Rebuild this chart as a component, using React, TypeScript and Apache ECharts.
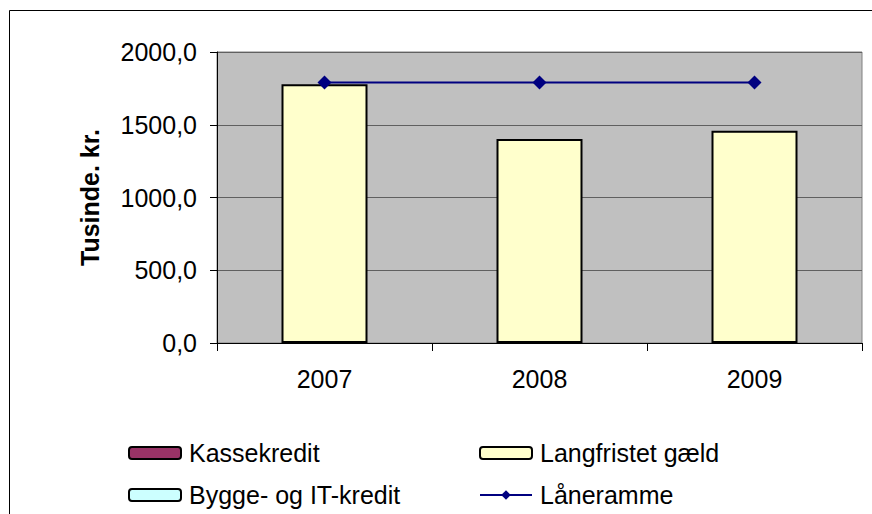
import React, { useEffect, useRef } from "react";
import * as echarts from "echarts";

const categories = ["2007", "2008", "2009"];
const kassekredit: (number | string)[] = ["-", "-", "-"];
const byggeIT: (number | string)[] = ["-", "-", "-"];
const langfristet = [1778, 1402, 1459];
const laaneramme = [1790, 1790, 1790];
const yTicks = { min: 0, max: 2000, interval: 500 };

const FONT = "'Liberation Sans', Arial, sans-serif";
const FS = 25;

function legendItem(name: string, left: number, top: number) {
  return {
    left,
    top,
    orient: "horizontal",
    itemWidth: 52,
    itemHeight: 12,
    data: [name],
    selectedMode: false,
    padding: 0,
    textStyle: {
      fontFamily: FONT,
      fontSize: FS,
      color: "#000",
      lineHeight: 26,
      padding: [0, 0, 0, 3],
    },
  };
}

export default function App() {
  const ref = useRef<HTMLDivElement>(null);
  useEffect(() => {
    if (!ref.current) return;
    const chart = echarts.init(ref.current, undefined, { renderer: "svg" });
    chart.setOption({
      animation: false,
      backgroundColor: "#ffffff",
      textStyle: { fontFamily: FONT },
      graphic: [
        {
          type: "rect",
          shape: { x: 9.5, y: 10.5, width: 900, height: 600 },
          style: { fill: "none", stroke: "#000000", lineWidth: 1 },
          silent: true,
          z: -1,
        },
      ],
      grid: {
        left: 217,
        right: 10,
        top: 52,
        bottom: 171,
        show: true,
        backgroundColor: "#C0C0C0",
        borderColor: "#808080",
        borderWidth: 1,
      },
      legend: [
        legendItem("Kassekredit", 128, 440),
        legendItem("Bygge- og IT-kredit", 128, 482),
        legendItem("Langfristet gæld", 479, 440),
        legendItem("Låneramme", 479, 482),
      ],
      xAxis: {
        type: "category",
        data: categories,
        axisLine: { lineStyle: { color: "#000", width: 1 } },
        axisTick: { show: true, length: 8, lineStyle: { color: "#000" } },
        axisLabel: { fontFamily: FONT, fontSize: FS, color: "#000", margin: 23 },
        splitLine: { show: false },
      },
      yAxis: {
        type: "value",
        min: yTicks.min,
        max: yTicks.max,
        interval: yTicks.interval,
        name: "Tusinde. kr.",
        nameLocation: "middle",
        nameGap: 115,
        nameRotate: 90,
        nameTextStyle: { fontFamily: FONT, fontSize: FS, fontWeight: "bold", color: "#000" },
        axisLine: { show: true, lineStyle: { color: "#000", width: 1 } },
        axisTick: { show: true, length: 7, lineStyle: { color: "#000" } },
        axisLabel: {
          fontFamily: FONT,
          fontSize: FS,
          color: "#000",
          margin: 20,
          formatter: (v: number) => v.toFixed(1).replace(".", ","),
        },
        splitLine: { show: true, lineStyle: { color: "#606060", width: 1 } },
      },
      series: [
        {
          name: "Kassekredit",
          type: "bar",
          stack: "s",
          barWidth: "40%",
          data: kassekredit,
          itemStyle: { color: "#993366", borderColor: "#000", borderWidth: 2 },
        },
        {
          name: "Bygge- og IT-kredit",
          type: "bar",
          stack: "s",
          barWidth: "40%",
          data: byggeIT,
          itemStyle: { color: "#CCFFFF", borderColor: "#000", borderWidth: 2 },
        },
        {
          name: "Langfristet gæld",
          type: "bar",
          stack: "s",
          barWidth: "40%",
          data: langfristet,
          itemStyle: { color: "#FFFFCC", borderColor: "#000", borderWidth: 2 },
        },
        {
          name: "Låneramme",
          type: "line",
          data: laaneramme,
          symbol: "diamond",
          symbolSize: 14,
          lineStyle: { color: "#000080", width: 2 },
          itemStyle: { color: "#000080" },
          z: 5,
        },
      ],
    });
    return () => chart.dispose();
  }, []);
  return (
    <div
      ref={ref}
      style={{ position: "fixed", left: 0, top: 0, width: 872, height: 514 }}
    />
  );
}
